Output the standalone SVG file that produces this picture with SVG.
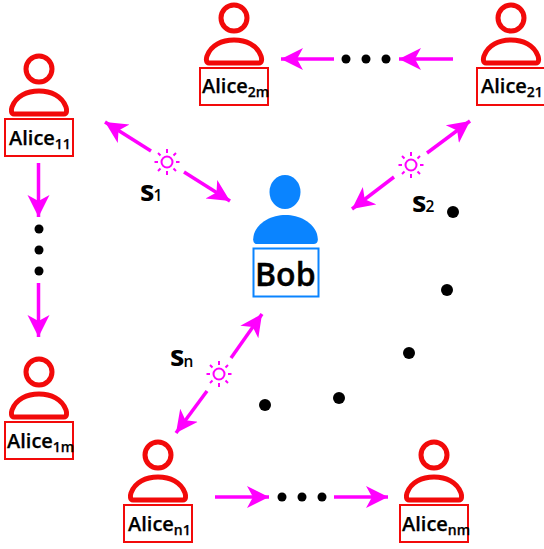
<svg xmlns="http://www.w3.org/2000/svg" width="544" height="549" viewBox="0 0 544 549">
<style>
.head{fill:none;stroke:#f20a0a;stroke-width:5}
.body{fill:#fff;stroke:#f20a0a;stroke-width:5;stroke-linejoin:round}
.box{fill:#fff;stroke:#f20a0a;stroke-width:2}
.name{font-family:"Open Sans",sans-serif;font-size:20px;font-weight:600;fill:#000;stroke:#000;stroke-width:.25px}
.sub{font-size:14px;font-weight:600}
.key{font-family:"Open Sans",sans-serif;font-size:29px;font-weight:700;fill:#000}
.ksub{font-size:15.500px;font-weight:600}
.con{fill:none;stroke:#f0f;stroke-width:3.500;marker-end:url(#arr)}
.dot{fill:#000}
.sun{fill:none;stroke:#f0f;stroke-width:2}
</style>
<defs>
<marker id="arr" markerUnits="userSpaceOnUse" markerWidth="26" markerHeight="26" refX="22" refY="12" orient="auto" viewBox="0 0 26 26">
<path d="M0,1 L22,12 L0,23 L6,12 Z" fill="#f0f"/>
</marker>
<g id="person">
<circle class="head" cx="0" cy="0" r="13"/>
<path class="body" d="M-25,45 C-28,45 -28,41 -27,38 C-23,27 -12,22 0,22 C12,22 23,27 27,38 C28,41 28,45 25,45 Z"/>
<rect class="box" x="-34" y="50" width="68" height="37"/>
</g>
<g id="sunicon">
<circle class="sun" cx="0" cy="0" r="5.500"/>
<path class="sun" d="M0,-9V-13M0,9V13M-9,0H-12.500M9,0H12.500M-6.500,-6.500L-9,-9M6.500,-6.500L9,-9M-6.500,6.500L-9,9M6.500,6.500L9,9"/>
</g>
</defs>
<g id="connectors">
<path class="con" d="M151,151L105,122"/>
<path class="con" d="M184,172L230,201"/>
<path class="con" d="M427,153L470,121"/>
<path class="con" d="M394,177L352,209"/>
<path class="con" d="M231,358L262,314"/>
<path class="con" d="M207,391L176,433"/>
<path class="con" d="M38.500,163V217"/>
<path class="con" d="M38.500,283V337"/>
<path class="con" d="M334,59H281"/>
<path class="con" d="M453,59H399"/>
<path class="con" d="M215,497H269"/>
<path class="con" d="M334,497H388"/>
<use href="#sunicon" x="167" y="162"/>
<use href="#sunicon" x="411" y="165"/>
<use href="#sunicon" x="219" y="374"/>
</g>
<g id="dots">
<circle class="dot" cx="39" cy="229" r="4.500"/><circle class="dot" cx="39" cy="250" r="4.500"/><circle class="dot" cx="39" cy="271" r="4.500"/>
<circle class="dot" cx="346" cy="59" r="4.500"/><circle class="dot" cx="366" cy="59" r="4.500"/><circle class="dot" cx="386" cy="59" r="4.500"/>
<circle class="dot" cx="282" cy="497" r="4.500"/><circle class="dot" cx="302" cy="497" r="4.500"/><circle class="dot" cx="322" cy="497" r="4.500"/>
<circle class="dot" cx="453" cy="212" r="6"/><circle class="dot" cx="447" cy="290" r="6"/><circle class="dot" cx="409" cy="353" r="6"/><circle class="dot" cx="339" cy="398" r="6"/><circle class="dot" cx="265" cy="405" r="6"/>
</g>
<g id="alice11"><use href="#person" x="39" y="69"/><text class="name" x="9" y="145">Alice<tspan class="sub" dy="4">11</tspan></text></g>
<g id="alice1m"><use href="#person" x="39" y="372"/><text class="name" x="7" y="448">Alice<tspan class="sub" dy="4">1m</tspan></text></g>
<g id="alice2m"><use href="#person" x="234" y="18"/><text class="name" x="202" y="93">Alice<tspan class="sub" dy="4">2m</tspan></text></g>
<g id="alice21"><use href="#person" x="511" y="18"/><text class="name" x="481" y="93">Alice<tspan class="sub" dy="4">21</tspan></text></g>
<g id="alicen1"><use href="#person" x="158" y="455"/><text class="name" x="128" y="531">Alice<tspan class="sub" dy="4">n1</tspan></text></g>
<g id="alicenm"><use href="#person" x="434" y="455"/><text class="name" x="402" y="531">Alice<tspan class="sub" dy="4">nm</tspan></text></g>
<g id="bob">
<ellipse cx="285" cy="192" rx="15.500" ry="17" fill="#0a84ff"/>
<path d="M257,244 C252,244 253,238 254,234 C258,222 272,215 285.500,215 C299,215 313,222 317,234 C318,238 319,244 314,244 Z" fill="#0a84ff"/>
<rect x="253.500" y="248.500" width="65" height="48" fill="#fff" stroke="#0a84ff" stroke-width="2"/>
<text x="255" y="286" font-family="Open Sans, sans-serif" font-size="32" font-weight="600" fill="#000" stroke="#000" stroke-width=".4">Bob</text>
</g>
<g id="labels">
<text class="key" x="140" y="201">s<tspan class="ksub" dx="-1">1</tspan></text>
<text class="key" x="412" y="212">s<tspan class="ksub" dx="-1">2</tspan></text>
<text class="key" x="170" y="366">s<tspan class="ksub" dx="-1" dy="1">n</tspan></text>
</g>
</svg>
